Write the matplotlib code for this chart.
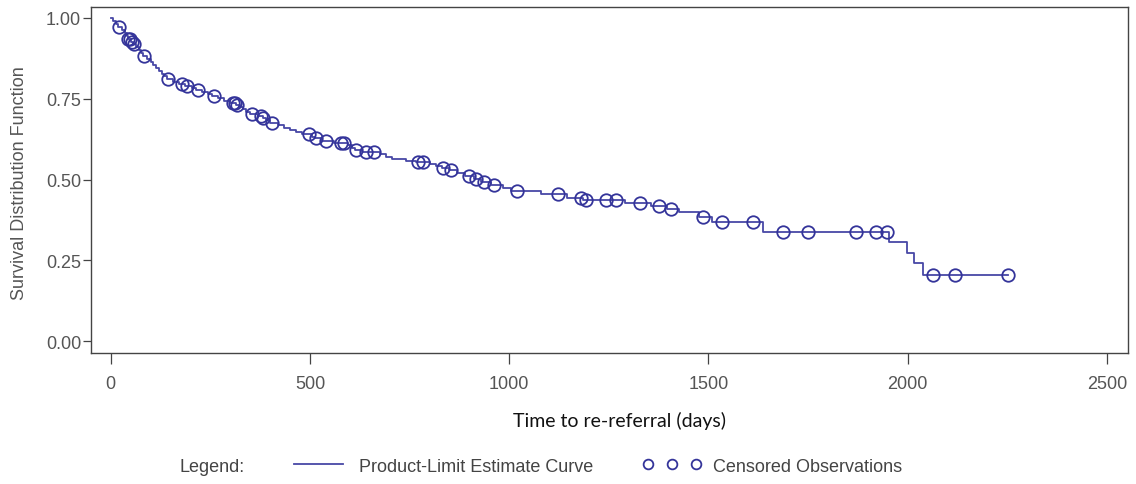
import numpy as np
import matplotlib
matplotlib.use('Agg')
import matplotlib.pyplot as plt
from matplotlib.lines import Line2D

# step points of the product-limit curve (day, survival after the drop)
event_days = [0, 6, 12, 18, 28, 35, 40, 42, 50, 56, 63, 70, 76, 80, 92, 100, 107,
              114, 121, 128, 134, 140, 155, 170, 186, 205, 215, 230, 245, 255,
              270, 283, 298, 314, 325, 332, 340, 350, 370, 382, 390, 400, 420,
              435, 450, 465, 480, 505, 512, 530, 560, 595, 605, 612, 630, 675,
              690, 705, 740, 765, 800, 815, 830, 850, 870, 890, 912, 930, 955,
              985, 1005, 1080, 1146, 1185, 1290, 1355, 1395, 1425, 1475, 1510,
              1638, 1952, 1997, 2015, 2038]
survival = [1.000, 0.991, 0.982, 0.972, 0.963, 0.954, 0.945, 0.936, 0.927, 0.918,
            0.909, 0.900, 0.891, 0.882, 0.873, 0.864, 0.855, 0.846, 0.837, 0.828,
            0.819, 0.810, 0.803, 0.796, 0.789, 0.782, 0.777, 0.770, 0.764, 0.758,
            0.751, 0.744, 0.737, 0.731, 0.724, 0.717, 0.710, 0.703, 0.697, 0.690,
            0.683, 0.675, 0.668, 0.661, 0.654, 0.647, 0.640, 0.632, 0.628, 0.619,
            0.613, 0.606, 0.598, 0.591, 0.585, 0.578, 0.571, 0.564, 0.557, 0.554,
            0.547, 0.541, 0.536, 0.528, 0.520, 0.511, 0.502, 0.492, 0.483, 0.475,
            0.464, 0.455, 0.443, 0.437, 0.427, 0.418, 0.409, 0.400, 0.384, 0.368,
            0.337, 0.307, 0.272, 0.241, 0.204]
last_day = 2251

# censored observation times (days)
censored_days = [20, 43, 47, 53, 58, 83, 143, 178, 191, 219, 259, 307, 312, 317,
                 354, 377, 383, 405, 497, 515, 540, 578, 585, 616, 641, 661,
                 771, 784, 834, 854, 899, 917, 937, 962, 1020, 1123, 1181, 1193,
                 1244, 1269, 1329, 1377, 1405, 1485, 1535, 1611, 1686, 1749,
                 1869, 1920, 1947, 2063, 2118, 2251]

xticks = [0, 500, 1000, 1500, 2000, 2500]
yticks = [0.0, 0.25, 0.5, 0.75, 1.0]

line_col = '#4848a6'
mark_col = '#34349a'
gray = '#555555'

fig = plt.figure(figsize=(11.36, 4.85), dpi=100)
ax = fig.add_axes([0.080, 0.270, 0.913, 0.7135])

xs = np.array(event_days + [last_day])
ys = np.array(survival + [survival[-1]])
ax.step(xs, ys, where='post', color=line_col, lw=1.3)

idx = np.searchsorted(event_days, censored_days, side='right') - 1
cy = np.array(survival)[idx]
ax.plot(censored_days, cy, ls='none', marker='o', ms=9, mfc='none',
        mec=mark_col, mew=1.3)

ax.set_xlim(-50, 2553)
ax.set_ylim(-0.037, 1.034)
ax.set_xticks(xticks)
ax.set_xticklabels([str(v) for v in xticks])
ax.set_yticks(yticks)
ax.set_yticklabels(['%.2f' % v for v in yticks])

for s in ax.spines.values():
    s.set_color('#444444')
    s.set_linewidth(1.0)
ax.tick_params(axis='x', length=8, width=0.9, color='#444444', pad=8,
               labelsize=13, labelcolor=gray)
ax.tick_params(axis='y', length=6, width=0.9, color='#444444', pad=1,
               labelsize=13, labelcolor=gray)
for lab in ax.get_xticklabels() + ax.get_yticklabels():
    lab.set_family('Liberation Sans')

fig.text(20 / 1136, 0.623, 'Survival Distribution Function', rotation=90,
         ha='center', va='center', fontsize=13, color=gray,
         family='Liberation Sans')
fig.text(0.545, 0.132, 'Time to re-referral (days)', ha='center', va='center',
         fontsize=14, family='Lato', color='#111111')

# legend row
fig.text(0.158, 0.037, 'Legend:', ha='left', va='center', fontsize=13,
         color='#444444', family='Liberation Sans')
handles = [Line2D([], [], color=line_col, lw=1.3),
           Line2D([], [], ls='none', marker='o', ms=7, mfc='none',
                  mec=mark_col, mew=1.3)]
leg = fig.legend(handles, ['Product-Limit Estimate Curve', 'Censored Observations'],
                 loc='center left', bbox_to_anchor=(0.240, 0.037), ncol=2,
                 frameon=False, numpoints=3, handlelength=3.3,
                 handletextpad=0.6, columnspacing=2.7,
                 prop={'family': 'Liberation Sans', 'size': 13})
for t in leg.get_texts():
    t.set_color('#444444')

fig.savefig('out.png', dpi=100)
